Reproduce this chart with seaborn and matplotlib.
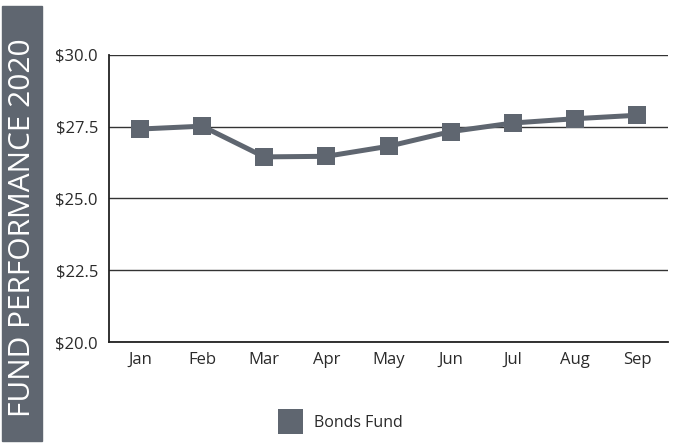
import matplotlib
matplotlib.use("Agg")
import matplotlib.pyplot as plt
import seaborn as sns
import pandas as pd
import numpy as np
from matplotlib.lines import Line2D
from matplotlib.patches import Rectangle
from matplotlib.ticker import FixedLocator, FuncFormatter

months = ["Jan", "Feb", "Mar", "Apr", "May", "Jun", "Jul", "Aug", "Sep"]
bonds_fund = [27.42, 27.52, 26.45, 26.47, 26.82, 27.33, 27.63, 27.78, 27.9]
y_ticks = [20.0, 22.5, 25.0, 27.5, 30.0]
title = "FUND PERFORMANCE 2020"
series_name = "Bonds Fund"

sns.set_style("white")
plt.rcParams["font.family"] = ["Open Sans", "DejaVu Sans"]

color = "#5f6670"
fig = plt.figure(figsize=(6.82, 4.44), dpi=100)
ax = fig.add_axes([109/682, 1-342/444, (668-109)/682, (342-55)/444])

df = pd.DataFrame({"idx": np.arange(len(months)), "value": bonds_fund})
sns.lineplot(data=df, x="idx", y="value", ax=ax, color=color, lw=3.6,
             marker="s", markersize=12.5, markeredgewidth=0, legend=False)

ax.set_xlim(-0.5, len(months) - 0.5)
ax.set_ylim(20, 30)
ax.set_xticks(np.arange(len(months)))
ax.set_xticklabels(months, fontsize=12, color="#2a2a2a")
ax.xaxis.set_minor_locator(FixedLocator(np.arange(len(months)) + 0.5))
ax.tick_params(axis="x", which="major", length=0, pad=7)
ax.tick_params(axis="x", which="minor", length=6, direction="in", width=1, color="#333333")
ax.set_yticks(y_ticks)
ax.yaxis.set_major_formatter(FuncFormatter(lambda v, p: f"${v:.1f}"))
ax.tick_params(axis="y", length=0, pad=8, labelsize=12, labelcolor="#2a2a2a")
ax.set_xlabel("")
ax.set_ylabel("")
ax.grid(axis="y", color="#333333", lw=1)
ax.set_axisbelow(True)
for s in ["top", "right"]:
    ax.spines[s].set_visible(False)
for s in ["left", "bottom"]:
    ax.spines[s].set_color("#222222")
    ax.spines[s].set_linewidth(1.3)

# side banner
fig.patches.append(Rectangle((2/682, 1-441/444), 40/682, 435/444,
                             transform=fig.transFigure, color=color, zorder=0))
fig.text(23/682, 1-228/444, title, rotation=90, color="white", fontsize=21.5,
         ha="center", va="center")

handle = Line2D([], [], marker="s", ls="none", color=color, markersize=18, markeredgewidth=0)
fig.legend([handle], [series_name], loc="center", bbox_to_anchor=(338/682, 1-423/444),
           frameon=False, fontsize=11.5, handletextpad=0.5, labelcolor="#2a2a2a")

fig.savefig("out.png", dpi=100)
